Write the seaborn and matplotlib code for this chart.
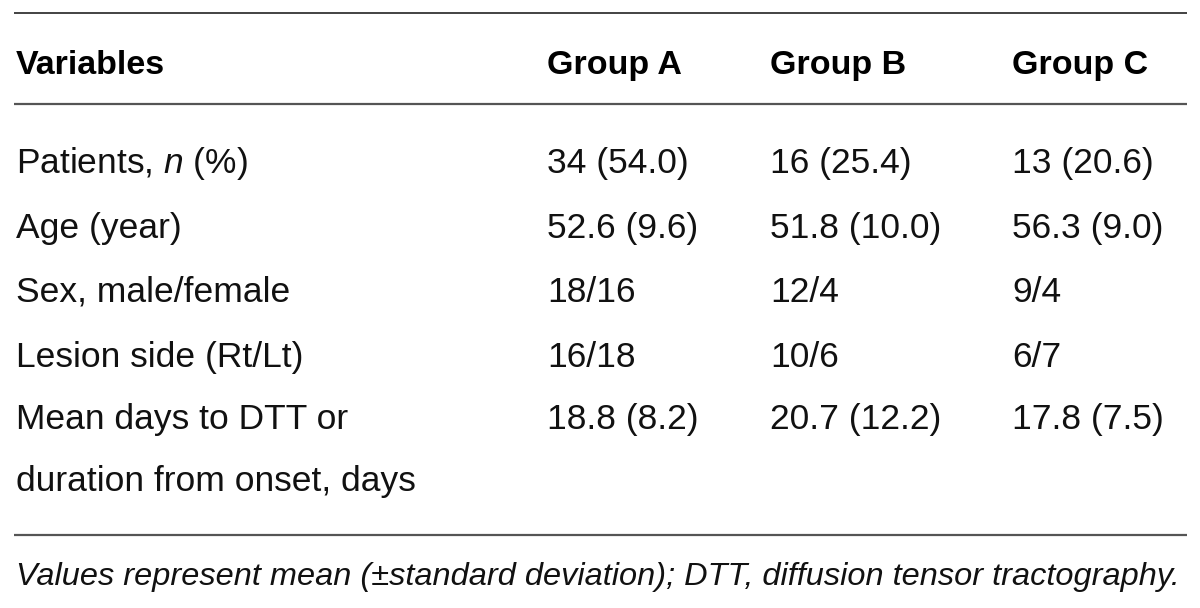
import matplotlib
matplotlib.use("Agg")
import matplotlib.pyplot as plt
import seaborn as sns
import pandas as pd

# ---- data ----
variables = ["Patients, $\\it{n}$ (%)", "Age (year)", "Sex, male/female",
             "Lesion side (Rt/Lt)", "Mean days to DTT or\nduration from onset, days"]
group_a = ["34 (54.0)", "52.6 (9.6)", "18/16", "16/18", "18.8 (8.2)"]
group_b = ["16 (25.4)", "51.8 (10.0)", "12/4", "10/6", "20.7 (12.2)"]
group_c = ["13 (20.6)", "56.3 (9.0)", "9/4", "6/7", "17.8 (7.5)"]
headers = ["Variables", "Group A", "Group B", "Group C"]
footnote = "Values represent mean (\u00b1standard deviation); DTT, diffusion tensor tractography."

table = pd.DataFrame({"Variables": variables, "Group A": group_a,
                      "Group B": group_b, "Group C": group_c})

sns.set_theme(style="white")
plt.rcParams["font.family"] = ["Liberation Sans", "DejaVu Sans"]
plt.rcParams["mathtext.fontset"] = "custom"
plt.rcParams["mathtext.it"] = "Liberation Sans:italic"
plt.rcParams["mathtext.rm"] = "Liberation Sans"

fig = plt.figure(figsize=(12, 6.08), dpi=100)
ax = fig.add_axes([0, 0, 1, 1])
ax.set_xlim(0, 1200)
ax.set_ylim(608, 0)
ax.axis("off")

col_x = [16, 547, 770, 1012]
header_base = 74
row_base = [173, 238, 302, 367, 429]
line_gap = 62
fs = 25.5
txt_color = "#111111"

for cx, h in zip(col_x, headers):
    ax.text(cx, header_base, h, fontsize=24.5, fontweight="bold", va="baseline",
            ha="left", color="black")

for i, row in table.iterrows():
    y = row_base[i]
    for cx, col in zip(col_x, headers):
        val = row[col]
        lines = val.split("\n")
        for k, ln in enumerate(lines):
            ax.text(cx, y + k * line_gap, ln, fontsize=fs, va="baseline",
                    ha="left", color=txt_color)

ax.plot([14, 1187], [12.5, 12.5], color="#222222", lw=1.2, solid_capstyle="butt")
ax.plot([14, 1187], [103.5, 103.5], color="#555555", lw=1.6, solid_capstyle="butt")
ax.plot([14, 1187], [535, 535], color="#555555", lw=1.6, solid_capstyle="butt")

ax.text(16, 585, footnote, fontsize=23.4, style="italic", va="baseline", ha="left",
        color=txt_color)

fig.savefig("out.png", dpi=100, facecolor="white")
